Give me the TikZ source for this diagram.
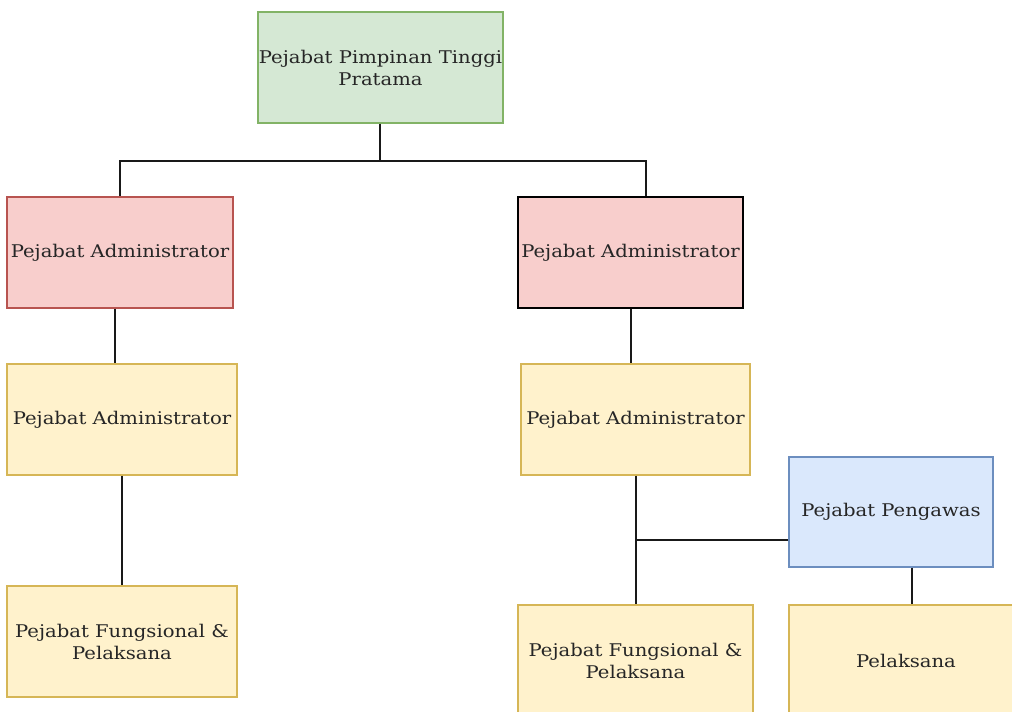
\documentclass[tikz,border=0pt]{standalone}
\usepackage{fontspec}
\setmainfont{DejaVu Serif}[FakeStretch=1.12]
\begin{document}
\begin{tikzpicture}[x=1pt,y=-1pt,
  box/.style={draw, rectangle, line width=1.3pt, inner sep=0pt, align=center,
    text=black!85, font=\fontsize{17.5}{22}\selectfont},
  green/.style={box, fill={rgb,255:red,213;green,232;blue,212}, draw={rgb,255:red,130;green,179;blue,102}},
  redbox/.style={box, fill={rgb,255:red,248;green,206;blue,204}, draw={rgb,255:red,184;green,84;blue,80}},
  redblack/.style={box, fill={rgb,255:red,248;green,206;blue,204}, draw=black},
  yellow/.style={box, fill={rgb,255:red,255;green,242;blue,204}, draw={rgb,255:red,214;green,182;blue,86}},
  blue/.style={box, fill={rgb,255:red,218;green,232;blue,252}, draw={rgb,255:red,108;green,142;blue,191}},
  link/.style={draw=black!90, line width=1.7pt}]
\useasboundingbox (0,0) rectangle (1012,712);
\clip (0,0) rectangle (1012,712);

% boxes
\node[green, minimum width=245, minimum height=111] (top) at (380.5,67.5) {Pejabat Pimpinan Tinggi\\Pratama};
\node[redbox, minimum width=226, minimum height=111] (la) at (120,252.5) {Pejabat Administrator};
\node[redblack, minimum width=225, minimum height=111] (ra) at (630.5,252.5) {Pejabat Administrator};
\node[yellow, minimum width=230, minimum height=111] (ly) at (122,419.5) {Pejabat Administrator};
\node[yellow, minimum width=229, minimum height=111] (ry) at (635.5,419.5) {Pejabat Administrator};
\node[yellow, minimum width=230, minimum height=111] (lf) at (122,641.5) {Pejabat Fungsional \&\\Pelaksana};
\node[blue, minimum width=204, minimum height=110] (pw) at (891,512) {Pejabat Pengawas};
\node[yellow, minimum width=235, minimum height=111] (rf) at (635.5,660.5) {Pejabat Fungsional \&\\Pelaksana};
\node[yellow, minimum width=234, minimum height=111] (pl) at (906,660.5) {Pelaksana};

% connectors
\coordinate (tdrop) at ([xshift=-0.5pt]top.south);
\coordinate (split) at ([yshift=-37pt]tdrop);
\coordinate (rdrop) at ([xshift=15.5pt]ra.north);
\coordinate (rmid) at ([xshift=0.5pt]ra.south);
\coordinate (rtrunk) at ([xshift=0.5pt]ry.south);
\draw[link] (tdrop) -- (split);
\draw[link] (split) -| (la.north);
\draw[link] (split) -| (rdrop);
\draw[link] ([xshift=-5pt]la.south) -- ([xshift=-7pt]ly.north);
\draw[link] (ly.south) -- (lf.north);
\draw[link] (rmid) -- (rmid |- ry.north);
\draw[link] (rtrunk) -- (rtrunk |- rf.north);
\coordinate (join) at ([yshift=-28pt]pw.west);
\draw[link] (join) -- (join -| rtrunk);
\draw[link] ([xshift=21pt]pw.south) -- ([xshift=21pt]pw.south |- pl.north);
\end{tikzpicture}
\end{document}
